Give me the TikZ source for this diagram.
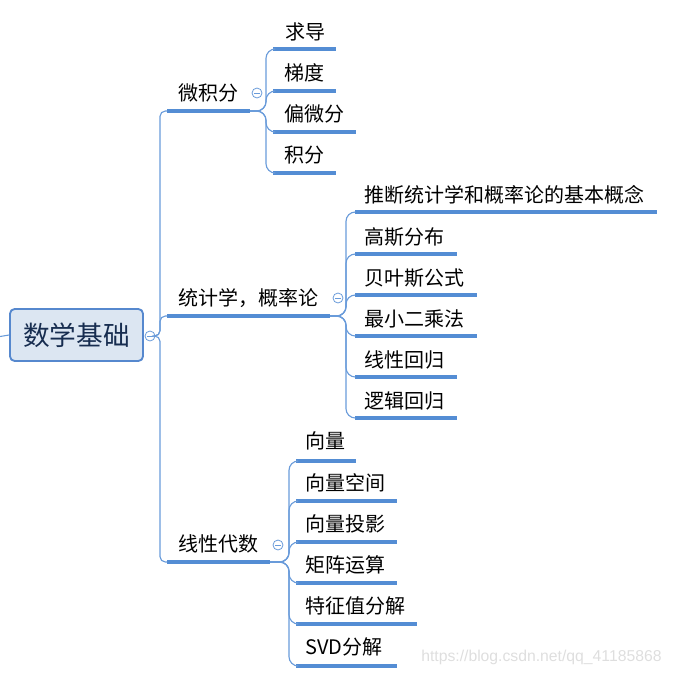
\documentclass[tikz,border=0pt]{standalone}
\usepackage{fontspec}
\setmainfont{Noto Sans CJK SC}
\newfontfamily\wmfont{Liberation Sans}
\definecolor{ulblue}{RGB}{84,141,212}
\definecolor{lnblue}{RGB}{105,155,218}
\definecolor{rootfill}{RGB}{220,230,242}
\definecolor{rootdraw}{RGB}{86,136,206}
\definecolor{roottext}{RGB}{23,45,80}
\definecolor{wmgray}{RGB}{222,222,222}
\newcommand\mytopic[7]{%
  \node[lbl] (#1) at (#2,#3) {#7};
  \coordinate (#1-s) at (#4,#6);
  \coordinate (#1-e) at (#5,#6);
  \draw[ulline] (#1-s) -- (#1-e);}
\tikzset{
  lbl/.style={font=\fontsize{15pt}{17pt}\selectfont, inner sep=0pt, anchor=west, text=black},
  ulline/.style={draw=ulblue, line width=2.5pt},
  conn/.style={draw=lnblue, line width=0.85pt, rounded corners=7pt},
  rconn/.style={draw=lnblue, line width=0.85pt, rounded corners=4pt},
  collapse/.style={circle, draw=lnblue, fill=white, minimum size=7.5pt, inner sep=0pt, line width=0.6pt,
    path picture={\draw[lnblue, line width=0.6pt] ([xshift=-2pt]path picture bounding box.center) -- ([xshift=2pt]path picture bounding box.center);}},
  rootbox/.style={draw=rootdraw, fill=rootfill, line width=1.4pt, rounded corners=3.5pt,
    minimum width=99.75pt, minimum height=39pt, inner sep=0pt,
    font=\fontsize{20pt}{22pt}\selectfont, text=roottext}
}
\begin{document}
\begin{tikzpicture}[x=0.75pt,y=-0.75pt]
\useasboundingbox (0,0) rectangle (675,675);
% root
\node[rootbox] (root) at (76.5,335) {数学基础};
\coordinate (lft) at (0,336.5);
\draw[draw=lnblue, line width=0.8pt] (lft) -- (root.west);
\node[collapse] (rc) at (150,336) {};
\coordinate (t0) at (160,0);
% main branches
\mytopic{b1}{178}{93}{167}{250}{111}{微积分}
\mytopic{b2}{178}{298}{167}{330}{316}{统计学，概率论}
\mytopic{b3}{178}{544}{167}{270}{562}{线性代数}
\foreach \b in {b1,b2,b3}{
  \draw[rconn] (rc.east) -- (rc.east -| t0) -- (\b-s -| t0) -- (\b-s);
}
\node[collapse] (c1) at (257,93) {};
\node[collapse] (c2) at (338,298) {};
\node[collapse] (c3) at (278,545) {};
% calculus children
\coordinate (v1) at (266,0);
\mytopic{a1}{285}{32}{273}{336}{49}{求导}
\mytopic{a2}{284}{73}{273}{336}{91}{梯度}
\mytopic{a3}{284}{114}{273}{356}{132}{偏微分}
\mytopic{a4}{284}{155}{273}{336}{173}{积分}
\foreach \c in {a1,a2,a3,a4}{
  \draw[conn] (b1-e) -- (b1-e -| v1) -- (\c-s -| v1) -- (\c-s);
}
% statistics children
\coordinate (v2) at (346,0);
\mytopic{s1}{364}{195}{355}{657}{212}{推断统计学和概率论的基本概念}
\mytopic{s2}{364}{237}{355}{457}{254}{高斯分布}
\mytopic{s3}{364}{278}{355}{477}{295}{贝叶斯公式}
\mytopic{s4}{364}{319}{355}{477}{336}{最小二乘法}
\mytopic{s5}{364}{360}{355}{457}{377}{线性回归}
\mytopic{s6}{364}{401}{355}{457}{418}{逻辑回归}
\foreach \c in {s1,s2,s3,s4,s5,s6}{
  \draw[conn] (b2-e) -- (b2-e -| v2) -- (\c-s -| v2) -- (\c-s);
}
% linear algebra children
\coordinate (v3) at (289,0);
\mytopic{l1}{305}{441}{296}{356}{461}{向量}
\mytopic{l2}{305}{483}{296}{397}{501}{向量空间}
\mytopic{l3}{305}{524}{296}{397}{542}{向量投影}
\mytopic{l4}{305}{565}{296}{397}{583}{矩阵运算}
\mytopic{l5}{305}{606}{296}{417}{624}{特征值分解}
\mytopic{l6}{305}{647}{296}{397}{666}{SVD分解}
\foreach \c in {l1,l2,l3,l4,l5,l6}{
  \draw[conn] (b3-e) -- (b3-e -| v3) -- (\c-s -| v3) -- (\c-s);
}
% watermark
\node[font=\wmfont\fontsize{11.8pt}{13pt}\selectfont, text=wmgray, anchor=west, inner sep=0pt] (wm) at (421,657) {https://blog.csdn.net/qq\_41185868};
\end{tikzpicture}
\end{document}
